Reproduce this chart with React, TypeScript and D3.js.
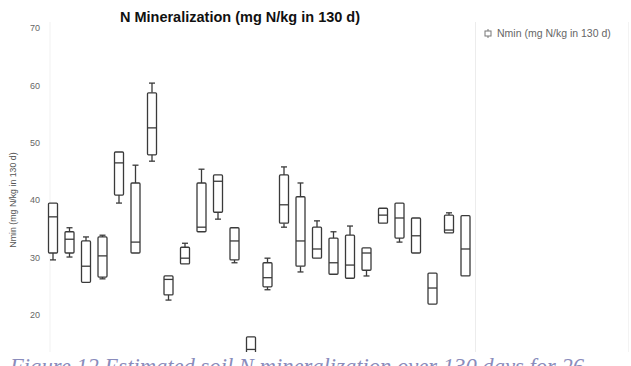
import React from "react";
import * as d3 from "d3";

// Soil N mineralization box statistics, one entry per soil sample
const samples = d3.range(1, 27).map(String);
const mins = [29.6, 30.1, 25.7, 26.3, 39.5, 30.8, 46.8, 22.6, 28.9, 34.5, 36.7, 29.1, 11.0, 24.4, 35.3, 27.5, 29.9, 27.1, 26.4, 26.8, 36.0, 32.7, 30.8, 21.9, 34.3, 26.8];
const q1s = [30.8, 30.8, 25.7, 26.6, 40.9, 30.8, 47.9, 23.5, 28.9, 34.5, 37.9, 29.6, 12.0, 24.9, 36.0, 28.5, 29.9, 27.1, 26.4, 27.8, 36.0, 33.4, 30.8, 21.9, 34.3, 26.8];
const medians = [37.1, 33.2, 28.5, 30.3, 46.5, 32.7, 52.6, 26.2, 29.9, 35.3, 43.3, 32.9, 14.0, 26.5, 39.2, 32.9, 31.5, 29.1, 28.7, 30.8, 37.4, 36.9, 33.8, 24.7, 34.8, 31.5];
const q3s = [39.5, 34.5, 32.9, 33.6, 48.4, 43.0, 58.7, 26.8, 31.8, 43.0, 44.4, 35.2, 16.2, 29.1, 44.4, 40.6, 35.3, 33.4, 33.9, 31.7, 38.6, 39.5, 36.9, 27.3, 37.4, 37.3];
const maxs = [39.5, 35.2, 33.6, 33.9, 48.4, 46.1, 60.4, 26.8, 32.5, 45.4, 44.4, 35.2, 16.2, 29.9, 45.8, 43.0, 36.4, 34.5, 35.5, 31.7, 38.6, 39.5, 36.9, 27.3, 37.8, 37.3];
const yTicks = [20, 30, 40, 50, 60, 70];

const title = "N Mineralization (mg N/kg in 130 d)";
const seriesName = "Nmin (mg N/kg in 130 d)";
const caption = "Figure 12 Estimated soil N mineralization over 130 days for 26";

const W = 631;
const H = 366;

export default function App() {
  const x = d3.scaleBand<string>().domain(samples).range([44.75, 473.75]);
  const y = d3.scaleLinear().domain([20, 70]).range([315, 28]);
  const boxW = 9;
  const capW = 6;
  const stroke = "#3a3a3a";

  return (
    <svg
      width={W}
      height={H}
      style={{ position: "absolute", left: 0, top: 0, background: "#fff" }}
      fontFamily="Arial, Liberation Sans, sans-serif"
    >
      <rect x={0} y={0} width={W} height={H} fill="#fff" />
      {/* faint frame lines of the plot and legend panels */}
      <line x1={50} x2={50} y1={22} y2={352} stroke="#f1f1f1" />
      <line x1={475.5} x2={475.5} y1={22} y2={352} stroke="#ececec" />
      <line x1={628.5} x2={628.5} y1={22} y2={352} stroke="#f3f3f3" />

      <text x={240} y={22} textAnchor="middle" fontSize={14.5} fontWeight="bold" fill="#111">
        {title}
      </text>

      {yTicks.map((t) => (
        <text key={t} x={40} y={y(t)} dy="0.35em" textAnchor="end" fontSize={9} fill="#666">
          {t}
        </text>
      ))}
      <text
        transform={`translate(16,200) rotate(-90)`}
        textAnchor="middle"
        fontSize={8.8}
        fill="#555"
      >
        {seriesName}
      </text>

      {samples.map((s, i) => {
        const cx = (x(s) as number) + x.bandwidth() / 2;
        return (
          <g key={s} stroke={stroke} strokeWidth={1.3} fill="none">
            <line x1={cx} x2={cx} y1={y(maxs[i])} y2={y(q3s[i])} />
            <line x1={cx} x2={cx} y1={y(q1s[i])} y2={y(mins[i])} />
            {maxs[i] > q3s[i] && (
              <line x1={cx - capW / 2} x2={cx + capW / 2} y1={y(maxs[i])} y2={y(maxs[i])} />
            )}
            {mins[i] < q1s[i] && (
              <line x1={cx - capW / 2} x2={cx + capW / 2} y1={y(mins[i])} y2={y(mins[i])} />
            )}
            <rect
              x={cx - boxW / 2}
              y={y(q3s[i])}
              width={boxW}
              height={y(q1s[i]) - y(q3s[i])}
              rx={1}
              fill="#fff"
            />
            <line x1={cx - boxW / 2} x2={cx + boxW / 2} y1={y(medians[i])} y2={y(medians[i])} />
          </g>
        );
      })}

      {/* legend */}
      <g stroke="#777" strokeWidth={1} fill="none">
        <line x1={488} x2={488} y1={29} y2={38} />
        <rect x={485} y={31} width={6} height={5} fill="#fff" />
      </g>
      <text x={497} y={37} fontSize={10.5} fill="#666">
        {seriesName}
      </text>

      {/* caption strip */}
      <rect x={0} y={352} width={W} height={H - 352} fill="#fff" />
      <text
        x={10}
        y={374}
        fontSize={22.6}
        fontStyle="italic"
        fontFamily="Liberation Serif, Times New Roman, serif"
        fill="#8a8cbc"
      >
        {caption}
      </text>
    </svg>
  );
}
